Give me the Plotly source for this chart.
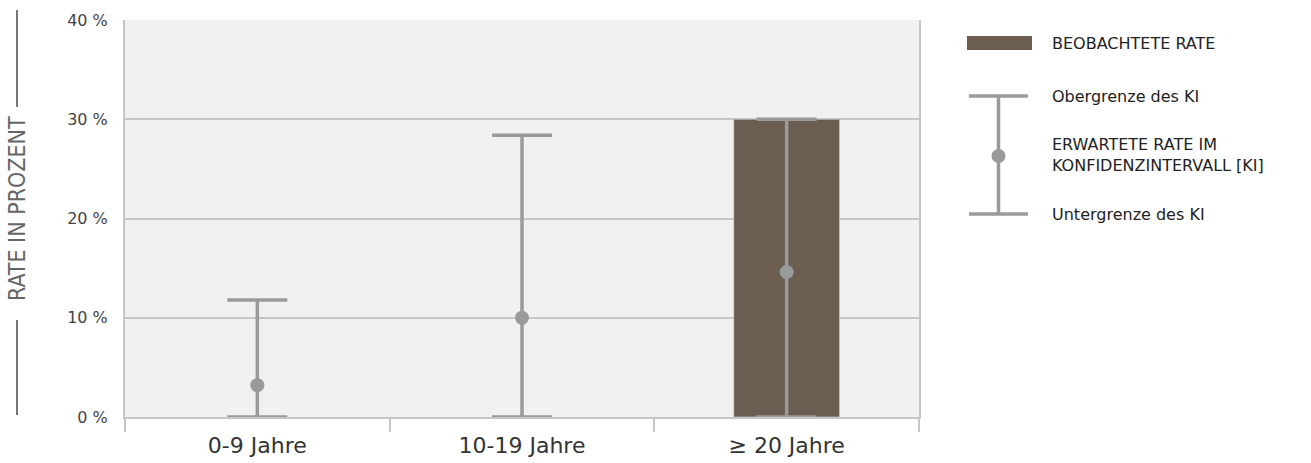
import plotly.graph_objects as go

categories = ["0-9 Jahre", "10-19 Jahre", "≥ 20 Jahre"]
observed = [None, None, 30.0]
expected = [3.2, 10.0, 14.6]
ci_upper = [11.8, 28.4, 30.0]
ci_lower = [0.0, 0.0, 0.0]
y_ticks = [0, 10, 20, 30, 40]
y_tick_labels = ["0 %", "10 %", "20 %", "30 %", "40 %"]

W, H = 1311, 463
PLOT_L, PLOT_R, PLOT_T, PLOT_B = 125, 919, 20, 417  # screen px
L, T = PLOT_L, PLOT_T
PW = PLOT_R - PLOT_L
PH = PLOT_B - PLOT_T
R = W - L - PW
B = H - T - PH

def px(xs):
    return (xs - PLOT_L) / PW

def py(ys):
    return (PLOT_B - ys) / PH

BAR = "#6b5d50"
ERR = "#9a9a9a"
GRID = "#c6c6c6"

fig = go.Figure()
fig.add_trace(go.Bar(x=categories, y=observed, marker_color=BAR, width=0.4,
                     showlegend=False))
fig.add_trace(go.Scatter(
    x=categories, y=expected, mode="markers",
    marker=dict(size=14, color=ERR),
    error_y=dict(type="data", symmetric=False,
                 array=[u - e for u, e in zip(ci_upper, expected)],
                 arrayminus=[e - l for e, l in zip(expected, ci_lower)],
                 color=ERR, thickness=3.5, width=30),
    showlegend=False))

fig.update_layout(
    width=W, height=H,
    margin=dict(l=L, r=R, t=T, b=B, autoexpand=False),
    paper_bgcolor="white", plot_bgcolor="#f1f1f1",
    font=dict(family="DejaVu Sans", color="#444"),
)
fig.update_xaxes(
    type="category", range=[-0.5, 2.5], tickson="boundaries",
    ticks="outside", ticklen=13, tickcolor=GRID, tickwidth=2,
    showline=True, linecolor=GRID, linewidth=2, showgrid=False,
    automargin=False, ticklabelstandoff=8,
    tickfont=dict(family="DejaVu Sans", size=22, color="#333"),
)
fig.update_yaxes(
    range=[0, 40], tickvals=y_ticks, ticktext=y_tick_labels,
    showgrid=True, gridcolor=GRID, gridwidth=1.5,
    showline=True, mirror=True, linecolor=GRID, linewidth=2,
    zeroline=False, ticks="", ticklabelstandoff=12, automargin=False,
    tickfont=dict(family="DejaVu Sans", size=16, color="#444"),
)

# y-axis title with decorative lines
fig.add_annotation(xref="paper", yref="paper", x=px(17), y=py(208),
                   xanchor="center", yanchor="middle",
                   text="RATE IN PROZENT", textangle=-90, showarrow=False,
                   font=dict(family="DejaVu Sans Condensed", size=23, color="#666"))
for y0, y1 in [(10, 107), (320, 415)]:
    fig.add_shape(type="line", xref="paper", yref="paper",
                  x0=px(17), x1=px(17), y0=py(y0), y1=py(y1),
                  line=dict(color="#777", width=2))

# legend
fig.add_shape(type="rect", xref="paper", yref="paper",
              x0=px(967), x1=px(1032), y0=py(36), y1=py(50),
              fillcolor=BAR, line=dict(width=0))
for yy in (96, 214):
    fig.add_shape(type="line", xref="paper", yref="paper",
                  x0=px(969), x1=px(1028), y0=py(yy), y1=py(yy),
                  line=dict(color=ERR, width=3.5))
fig.add_shape(type="line", xref="paper", yref="paper",
              x0=px(998.5), x1=px(998.5), y0=py(96), y1=py(214),
              line=dict(color=ERR, width=3.5))
fig.add_shape(type="circle", xref="paper", yref="paper",
              x0=px(991.5), x1=px(1005.5), y0=py(149), y1=py(163),
              fillcolor=ERR, line=dict(width=0))

legend_texts = [
    ("BEOBACHTETE RATE", 43),
    ("Obergrenze des KI", 96),
    ("ERWARTETE RATE IM<br>KONFIDENZINTERVALL [KI]", 155),
    ("Untergrenze des KI", 215),
]
for txt, yy in legend_texts:
    fig.add_annotation(xref="paper", yref="paper", x=px(1050), y=py(yy),
                       xanchor="left", yanchor="middle", align="left",
                       text=txt, showarrow=False,
                       font=dict(family="DejaVu Sans", size=16, color="#222"))

fig.write_html("out.html",
               config={"displayModeBar": False},
               post_script="document.body.style.margin='0';document.body.style.overflow='hidden';")
